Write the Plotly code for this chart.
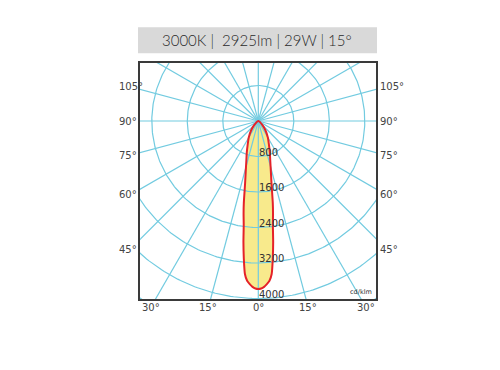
import numpy as np
import plotly.graph_objects as go

# ---------------- data ----------------
title_text = "3000K |\u00a0\u00a02925lm | 29W | 15°"
unit_label = "cd/klm"
ring_values = [800, 1600, 2400, 3200, 4000, 4800]
ring_labels = [800, 1600, 2400, 3200, 4000]
spoke_angles = list(range(0, 360, 15))
side_label_angles = [45, 60, 75, 90, 105]
bottom_label_angles = [-30, -15, 0, 15, 30]

# C0-C180 plane, angle from nadir (deg) and intensity (cd/klm)
curve_angles = [-90, -75, -60, -45, -38, -30, -25, -20, -17, -14, -12, -10, -9, -8, -7, -6, -5, -4, -3, -2, -1,
                0, 1, 2, 3, 4, 5, 6, 7, 8, 9, 10, 12, 14, 17, 20, 25, 30, 38, 45, 60, 75, 90]
curve_intensity = [0, 10, 40, 133, 257, 430, 560, 760, 919, 1170, 1430, 1880, 2120, 2360, 2750, 3120, 3460, 3610, 3680, 3740, 3775,
                   3786, 3775, 3740, 3680, 3610, 3460, 3120, 2750, 2360, 2120, 1880, 1430, 1170, 919, 760, 560, 430, 257, 133, 40, 10, 0]

# ---------------- geometry (page pixels, body margin compensated) ----------------
OFF = 8                 # default body margin of the html page
W, H = 500 - 2 * OFF, 370 - 2 * OFF
S = 800 / 35.5          # data units per pixel
CX, CY = 258.3 - OFF, 121.0 - OFF   # pole position
L, T, R, B = 140 - OFF, 63 - OFF, 376 - OFF, 299 - OFF

GRID = "#72cbe0"
TXT = "#333333"

def px2paper_x(px):
    return (px - OFF - L) / (R - L)

def px2paper_y(py):
    return (B - (py - OFF)) / (B - T)

def to_xy(theta_deg, r):
    t = np.radians(np.asarray(theta_deg, dtype=float))
    r = np.asarray(r, dtype=float)
    return r * np.sin(t), -r * np.cos(t)

fig = go.Figure()

# fill of the curve
cx, cy = to_xy(curve_angles, curve_intensity)
fig.add_trace(go.Scatter(x=cx, y=cy, mode="lines", fill="toself", fillcolor="#f8ea8c",
                         line=dict(width=0, shape="spline", smoothing=0.6), hoverinfo="skip"))

# rings
rx, ry = [], []
tt = np.linspace(0, 360, 361)
for rv in ring_values:
    x, y = to_xy(tt, np.full_like(tt, rv))
    rx += list(x) + [None]
    ry += list(y) + [None]
fig.add_trace(go.Scatter(x=rx, y=ry, mode="lines", line=dict(color=GRID, width=1.2), hoverinfo="skip"))

# spokes
sx, sy = [], []
for a in spoke_angles:
    x, y = to_xy([a, a], [0, 7000])
    sx += list(x) + [None]
    sy += list(y) + [None]
fig.add_trace(go.Scatter(x=sx, y=sy, mode="lines", line=dict(color=GRID, width=1.2), hoverinfo="skip"))

# curve outline
fig.add_trace(go.Scatter(x=cx, y=cy, mode="lines",
                         line=dict(color="#e52229", width=2, shape="spline", smoothing=0.6), hoverinfo="skip"))

ann = []
# ring labels
for rv in ring_labels:
    ann.append(dict(x=0, y=-rv, xref="x", yref="y", text=str(rv), showarrow=False,
                    xanchor="left", yanchor="middle", yshift=4.5, xshift=-1,
                    font=dict(family="DejaVu Sans", size=10, color=TXT)))

# side angle labels (where the ray meets a line 128 px beside the pole)
for a in side_label_angles:
    t = np.radians(a)
    py = 121.0 + 128 * np.cos(t) / np.sin(t)
    for xp in (117, 378):
        ann.append(dict(x=px2paper_x(xp), y=px2paper_y(py), xref="paper", yref="paper",
                        text=f"{a}°", showarrow=False, xanchor="left", yanchor="middle",
                        font=dict(family="DejaVu Sans", size=10, color="#444444")))

# bottom angle labels (where the ray meets a line 186 px below the pole)
for a in bottom_label_angles:
    t = np.radians(a)
    px = 258.3 + 186 * np.tan(t)
    ann.append(dict(x=px2paper_x(px), y=px2paper_y(307), xref="paper", yref="paper",
                    text=f"{abs(a)}°", showarrow=False, xanchor="center", yanchor="middle",
                    font=dict(family="DejaVu Sans", size=10, color="#444444")))

# unit label
ann.append(dict(x=1, y=0, xref="paper", yref="paper", text=unit_label, showarrow=False,
                xanchor="right", yanchor="bottom", xshift=-2, yshift=1,
                font=dict(family="DejaVu Sans", size=6.5, color=TXT)))

# title
ann.append(dict(x=px2paper_x(257), y=px2paper_y(40.5), xref="paper", yref="paper",
                text=title_text, showarrow=False, xanchor="center", yanchor="middle",
                font=dict(family="Lato", size=15, color="#2a2a2a", weight=300)))

shapes = [dict(type="rect", xref="paper", yref="paper",
               x0=px2paper_x(138), x1=px2paper_x(377),
               y0=px2paper_y(53.3), y1=px2paper_y(27.3),
               fillcolor="#d9d9d9", line=dict(width=0), layer="below")]

fig.update_layout(
    width=W, height=H, autosize=False,
    margin=dict(l=L, r=W - R, t=T, b=H - B),
    paper_bgcolor="white", plot_bgcolor="white",
    showlegend=False,
    annotations=ann, shapes=shapes,
    xaxis=dict(range=[(L - CX) * S, (R - CX) * S], showgrid=False, zeroline=False,
               showticklabels=False, ticks="", showline=True, mirror=True,
               linecolor="#3a3a3a", linewidth=1.5, fixedrange=True),
    yaxis=dict(range=[-(B - CY) * S, (CY - T) * S], showgrid=False, zeroline=False,
               showticklabels=False, ticks="", showline=True, mirror=True,
               linecolor="#3a3a3a", linewidth=1.5, fixedrange=True),
)

fig.write_html("out.html")
